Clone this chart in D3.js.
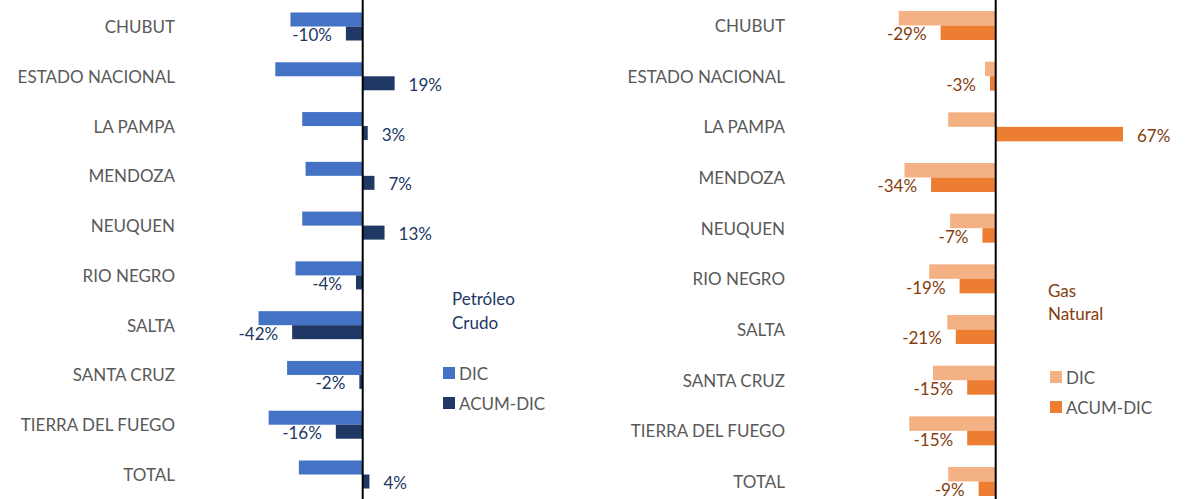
<!DOCTYPE html>
<html>
<head>
<meta charset="utf-8">
<script src="https://cdn.jsdelivr.net/npm/d3@7"></script>
<style>
  body { margin: 0; background: #fff; }
  text { font-family: Lato, "Open Sans", sans-serif; }
</style>
</head>
<body>
<div id="chart-area"></div>
<script>
const WIDTH = 1190
const HEIGHT = 499

// data
const categories = ["CHUBUT", "ESTADO NACIONAL", "LA PAMPA", "MENDOZA", "NEUQUEN",
  "RIO NEGRO", "SALTA", "SANTA CRUZ", "TIERRA DEL FUEGO", "TOTAL"]
const seriesNames = ["DIC", "ACUM-DIC"]
// Petróleo crudo, % var.
const petroleoDic = [-43, -52, -36, -34, -36, -40, -62, -45, -56, -38]
const petroleoAcum = [-10, 19, 3, 7, 13, -4, -42, -2, -16, 4]
// Gas natural, % var.
const gasDic = [-51, -5.6, -25, -48, -24, -35, -25.5, -33, -45.5, -25]
const gasAcum = [-29, -3, 67, -34, -7, -19, -21, -15, -15, -9]

const svg = d3.select("#chart-area").append("svg")
  .attr("width", WIDTH)
  .attr("height", HEIGHT)

// plain hyphen for negatives, like the source
const pct = v => Math.round(v) + "%"

const panels = [
  {
    title: ["Petróleo", "Crudo"],
    dic: petroleoDic, acum: petroleoAcum,
    colors: ["#4472C4", "#203864"], labelColor: "#203864", titleColor: "#203864",
    x: d3.scaleLinear().domain([-65, 35]).range([253.5, 421.5]),
    y: d3.scalePoint().domain(categories).range([26.5, 474.5]),
    barH: 14, catRight: 175,
    legend: { x: 443, titleX: 452, titleY: 305, y: 373 }
  },
  {
    title: ["Gas", "Natural"],
    dic: gasDic, acum: gasAcum,
    colors: ["#F4B183", "#ED7D31"], labelColor: "#843C0C", titleColor: "#843C0C",
    x: d3.scaleLinear().domain([-55, 75]).range([891.2, 1138.2]),
    y: d3.scalePoint().domain(categories).range([25.5, 481.5]),
    barH: 14.5, catRight: 785,
    legend: { x: 1050, titleX: 1048, titleY: 296.5, y: 377 }
  }
]

panels.forEach(p => {
  const g = svg.append("g")
  const x = p.x, y = p.y
  const rows = categories.map((c, i) => ({ cat: c, dic: p.dic[i], acum: p.acum[i] }))

  // category labels
  g.selectAll(".cat").data(rows).enter().append("text")
    .attr("class", "cat")
    .attr("x", p.catRight)
    .attr("y", d => y(d.cat) + 6.5)
    .attr("text-anchor", "end")
    .attr("font-size", "17px")
    .attr("fill", "#595959")
    .text(d => d.cat)

  // DIC bars (upper)
  g.selectAll(".dic").data(rows).enter().append("rect")
    .attr("class", "dic")
    .attr("x", d => x(Math.min(0, d.dic)))
    .attr("width", d => Math.abs(x(d.dic) - x(0)))
    .attr("y", d => y(d.cat) - p.barH)
    .attr("height", p.barH)
    .attr("fill", p.colors[0])

  // ACUM-DIC bars (lower)
  g.selectAll(".acum").data(rows).enter().append("rect")
    .attr("class", "acum")
    .attr("x", d => x(Math.min(0, d.acum)))
    .attr("width", d => Math.abs(x(d.acum) - x(0)))
    .attr("y", d => y(d.cat))
    .attr("height", p.barH)
    .attr("fill", p.colors[1])

  // value labels on ACUM-DIC
  g.selectAll(".val").data(rows).enter().append("text")
    .attr("class", "val")
    .attr("x", d => d.acum < 0 ? x(d.acum) - 14 : x(d.acum) + 14)
    .attr("y", d => y(d.cat) + p.barH / 2 + 7.5)
    .attr("text-anchor", d => d.acum < 0 ? "end" : "start")
    .attr("font-size", "17px")
    .attr("fill", p.labelColor)
    .text(d => pct(d.acum))

  // zero axis
  g.append("line")
    .attr("x1", x(0)).attr("x2", x(0))
    .attr("y1", 0).attr("y2", HEIGHT)
    .attr("stroke", "#000")
    .attr("stroke-width", 2)

  // title + legend
  g.selectAll(".ttl").data(p.title).enter().append("text")
    .attr("class", "ttl")
    .attr("x", p.legend.titleX)
    .attr("y", (d, i) => p.legend.titleY + i * 23.5)
    .attr("font-size", "17px")
    .attr("fill", p.titleColor)
    .text(d => d)

  const leg = g.selectAll(".leg").data(seriesNames).enter().append("g")
    .attr("class", "leg")
    .attr("transform", (d, i) => `translate(${p.legend.x}, ${p.legend.y + i * 30})`)
  leg.append("rect")
    .attr("x", 0).attr("y", -6)
    .attr("width", 12).attr("height", 12)
    .attr("fill", (d, i) => p.colors[i])
  leg.append("text")
    .attr("x", 16).attr("y", 6.5)
    .attr("font-size", "17px")
    .attr("fill", "#595959")
    .text(d => d)
})
</script>
</body>
</html>
